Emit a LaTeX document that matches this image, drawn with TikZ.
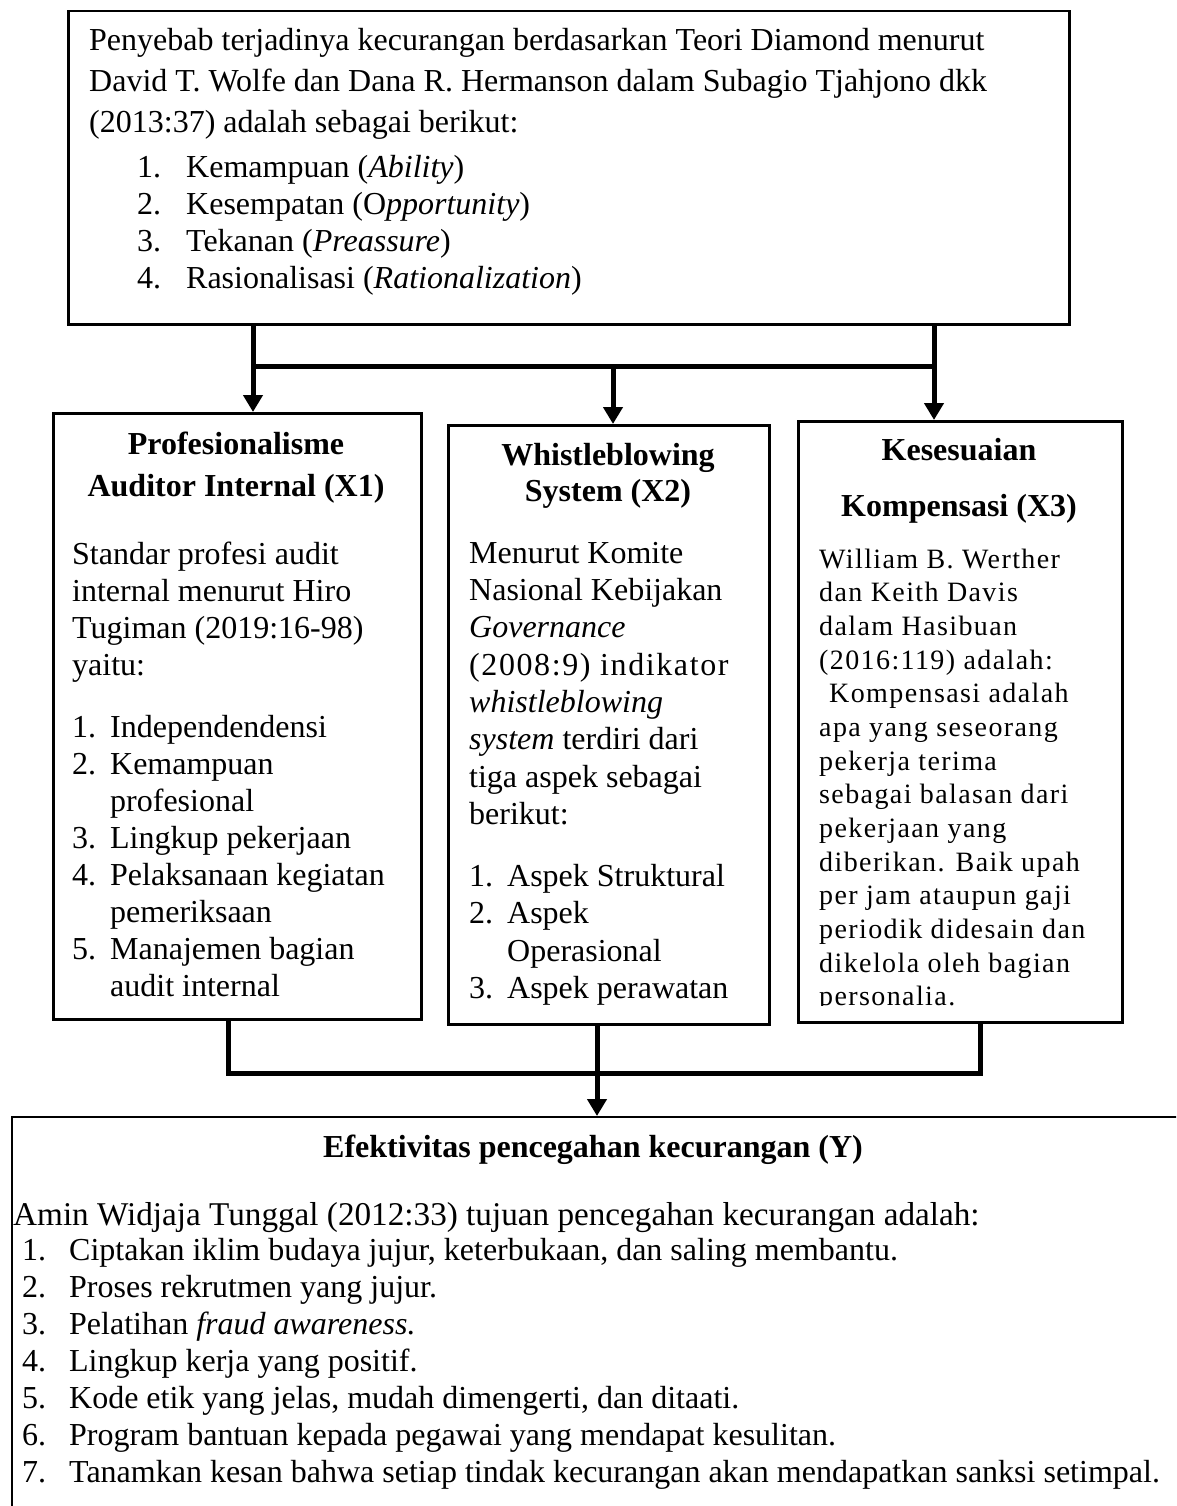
\documentclass[tikz,border=0pt]{standalone}
\usepackage{fontspec}
\setmainfont{Liberation Serif}
\newfontfamily\spacedserif[LetterSpace=5]{Liberation Serif}
\usetikzlibrary{arrows.meta}
\newcommand{\lnstrut}{\rule{0pt}{24pt}}
\newcommand{\itemno}[2][38pt]{\makebox[#1][l]{#2}}

\begin{document}
\begin{tikzpicture}[x=1pt, y=-1pt,
    box/.style={draw, line width=3pt, inner sep=0pt, anchor=north west},
    link/.style={line width=5pt},
    tip/.style={-{Triangle[width=19pt,length=17pt]}},
    txt/.style={anchor=north west, inner sep=0pt, align=left, font=\fontsize{32}{37}\selectfont},
    head/.style={anchor=north, inner sep=0pt, align=center, font=\fontsize{32}{#1}\selectfont\bfseries}]

    \useasboundingbox (0,0) rectangle (1176,1506);
    \clip (0,0) rectangle (1176,1506);

    % boxes
    \node[box, line width=2.5pt, minimum width=1001pt, minimum height=313pt] (top) at (67,10) {};
    \node[box, minimum width=368pt, minimum height=606pt] (xone) at (52,412) {};
    \node[box, minimum width=321pt, minimum height=599pt] (xtwo) at (447,424) {};
    \node[box, minimum width=324pt, minimum height=601pt] (xthree) at (797,420) {};
    \node[box, line width=2pt, minimum width=1200pt, minimum height=450pt] (ybox) at (11,1116) {};

    % branch points
    \coordinate (splitL) at (253,366);
    \coordinate (splitM) at (613,366);
    \coordinate (splitR) at (934,366);
    \coordinate (joinL) at (228,1073);
    \coordinate (joinM) at (597,1073);
    \coordinate (joinR) at (980,1073);

    % connectors
    \draw[link, tip] (top.south -| splitL) -- (xone.north -| splitL);
    \draw[link] (splitL) -- (splitR);
    \draw[link, tip] (splitM) -- (xtwo.north -| splitM);
    \draw[link, tip] (top.south -| splitR) -- (xthree.north -| splitR);
    \draw[link] (xone.south -| joinL) |- (joinR) -- (xthree.south -| joinR);
    \draw[link, tip] (xtwo.south -| joinM) -- (ybox.north -| joinM);

    % top box
    \node[txt, font=\fontsize{32}{41}\selectfont] (intro) at (89,26)
        {\lnstrut Penyebab terjadinya kecurangan berdasarkan Teori Diamond menurut\\
         David T. Wolfe dan Dana R. Hermanson dalam Subagio Tjahjono dkk\\
         (2013:37) adalah sebagai berikut:};
    \node[txt] (causes) at (137,153)
        {\lnstrut\itemno[49pt]{1.}Kemampuan (\textit{Ability})\\
         \itemno[49pt]{2.}Kesempatan (O\textit{pportunity})\\
         \itemno[49pt]{3.}Tekanan (\textit{Preassure})\\
         \itemno[49pt]{4.}Rasionalisasi (\textit{Rationalization})};

    % X1
    \node[head=42] (xonehead) at (236,430) {\lnstrut Profesionalisme\\Auditor Internal (X1)};
    \node[txt] (xonetext) at (72,540)
        {\lnstrut Standar profesi audit\\
         internal menurut Hiro\\
         Tugiman (2019:16-98)\\
         yaitu:\\[25pt]
         \itemno{1.}Independendensi\\
         \itemno{2.}Kemampuan\\
         \itemno{}profesional\\
         \itemno{3.}Lingkup pekerjaan\\
         \itemno{4.}Pelaksanaan kegiatan\\
         \itemno{}pemeriksaan\\
         \itemno{5.}Manajemen bagian\\
         \itemno{}audit internal};

    % X2
    \node[head=36] (xtwohead) at (608,441) {\lnstrut Whistleblowing\\System (X2)};
    \node[txt, font=\fontsize{32}{37.3}\selectfont] (xtwotext) at (469,539)
        {\lnstrut Menurut Komite\\
         Nasional Kebijakan\\
         \textit{Governance}\\
         {\spacedserif (2008:9) indikator}\\
         \textit{whistleblowing}\\
         \textit{system} terdiri dari\\
         tiga aspek sebagai\\
         berikut:\\[25pt]
         \itemno{1.}Aspek Struktural\\
         \itemno{2.}Aspek\\
         \itemno{}Operasional\\
         \itemno{3.}Aspek perawatan};

    % X3
    \node[head=56] (xthreehead) at (959,436) {\lnstrut Kesesuaian\\Kompensasi (X3)};
    \begin{scope}
        \clip (797,420) rectangle (1121,1005);
        \node[txt, font=\spacedserif\fontsize{28}{33.65}\selectfont] (xthreetext) at (819,544)
            {\lnstrut William B. Werther\\
             dan Keith Davis\\
             dalam Hasibuan\\
             (2016:119) adalah:\\
             \hspace*{10pt}Kompensasi adalah\\
             apa yang seseorang\\
             pekerja terima\\
             sebagai balasan dari\\
             pekerjaan yang\\
             diberikan. Baik upah\\
             per jam ataupun gaji\\
             periodik didesain dan\\
             dikelola oleh bagian\\
             personalia.};
    \end{scope}

    % Y
    \node[head=37] (yhead) at (593,1133) {\lnstrut Efektivitas pencegahan kecurangan (Y)};
    \node[txt, font=\fontsize{33.2}{37}\selectfont] (ylead) at (13,1201)
        {\lnstrut Amin Widjaja Tunggal (2012:33) tujuan pencegahan kecurangan adalah:};
    \node[txt] (ylist) at (22,1236)
        {\lnstrut\itemno[47pt]{1.}Ciptakan iklim budaya jujur, keterbukaan, dan saling membantu.\\
         \itemno[47pt]{2.}Proses rekrutmen yang jujur.\\
         \itemno[47pt]{3.}Pelatihan \textit{fraud awareness.}\\
         \itemno[47pt]{4.}Lingkup kerja yang positif.\\
         \itemno[47pt]{5.}Kode etik yang jelas, mudah dimengerti, dan ditaati.\\
         \itemno[47pt]{6.}Program bantuan kepada pegawai yang mendapat kesulitan.\\
         \itemno[47pt]{7.}Tanamkan kesan bahwa setiap tindak kecurangan akan mendapatkan sanksi setimpal.};
\end{tikzpicture}
\end{document}
